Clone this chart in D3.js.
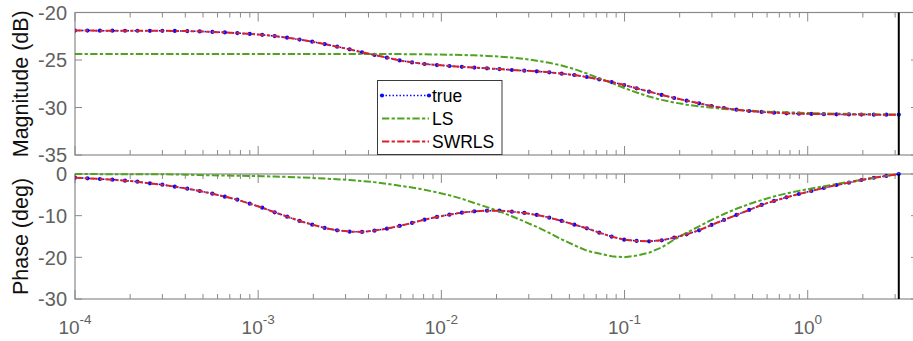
<!DOCTYPE html>
<html>
<head>
<meta charset="utf-8">
<script src="https://cdn.jsdelivr.net/npm/d3@7"></script>
<style>
  html, body { margin: 0; padding: 0; background: #fff; }
  svg { display: block; font-family: "Liberation Sans", Arial, Helvetica, sans-serif; }
</style>
</head>
<body>
<svg id="chart" width="913" height="341"></svg>
<script>
// Frequency grid (log10 of rad/sample), 1e-4 up to pi
const freqExp = [
  -4.000, -3.932, -3.864, -3.796, -3.727, -3.659, -3.591, -3.523, -3.455, -3.387,
  -3.319, -3.250, -3.182, -3.114, -3.046, -2.978, -2.910, -2.842, -2.774, -2.705,
  -2.637, -2.569, -2.501, -2.433, -2.365, -2.297, -2.228, -2.160, -2.092, -2.024,
  -1.956, -1.888, -1.820, -1.751, -1.683, -1.615, -1.547, -1.479, -1.411, -1.343,
  -1.274, -1.206, -1.138, -1.070, -1.002, -0.934, -0.866, -0.797, -0.729, -0.661,
  -0.593, -0.525, -0.457, -0.389, -0.320, -0.252, -0.184, -0.116, -0.048, 0.020,
  0.088, 0.157, 0.225, 0.293, 0.361, 0.429, 0.497
];

// Magnitude responses (dB)
const magTrue = [
  -21.90, -21.90, -21.91, -21.91, -21.92, -21.92, -21.93, -21.93, -21.94, -21.96,
  -21.99, -22.04, -22.10, -22.17, -22.25, -22.35, -22.48, -22.65, -22.85, -23.07,
  -23.32, -23.60, -23.88, -24.19, -24.47, -24.75, -25.04, -25.25, -25.42, -25.53,
  -25.63, -25.72, -25.80, -25.88, -25.95, -26.05, -26.12, -26.19, -26.30, -26.44,
  -26.58, -26.79, -27.04, -27.32, -27.63, -27.98, -28.33, -28.68, -29.00, -29.28,
  -29.56, -29.84, -30.05, -30.23, -30.37, -30.47, -30.54, -30.61, -30.65, -30.68,
  -30.70, -30.72, -30.73, -30.74, -30.75, -30.75, -30.75
];
const magLS = [
  -24.37, -24.37, -24.37, -24.37, -24.37, -24.37, -24.37, -24.37, -24.37, -24.37,
  -24.37, -24.37, -24.37, -24.37, -24.37, -24.37, -24.37, -24.37, -24.37, -24.37,
  -24.37, -24.37, -24.37, -24.37, -24.37, -24.37, -24.38, -24.39, -24.40, -24.42,
  -24.44, -24.47, -24.51, -24.57, -24.64, -24.74, -24.88, -25.07, -25.30, -25.58,
  -25.95, -26.42, -26.93, -27.42, -27.95, -28.42, -28.85, -29.20, -29.48, -29.70,
  -29.88, -30.02, -30.15, -30.26, -30.34, -30.41, -30.47, -30.51, -30.55, -30.59,
  -30.62, -30.65, -30.68, -30.70, -30.72, -30.74, -30.75
];
const magSWRLS = [
  -21.90, -21.90, -21.91, -21.91, -21.92, -21.92, -21.93, -21.93, -21.94, -21.96,
  -21.99, -22.04, -22.10, -22.17, -22.25, -22.35, -22.48, -22.65, -22.85, -23.07,
  -23.32, -23.60, -23.88, -24.19, -24.47, -24.75, -25.04, -25.25, -25.42, -25.53,
  -25.63, -25.72, -25.80, -25.88, -25.95, -26.05, -26.12, -26.19, -26.30, -26.44,
  -26.58, -26.79, -27.04, -27.32, -27.63, -27.98, -28.33, -28.68, -29.00, -29.28,
  -29.56, -29.84, -30.05, -30.23, -30.37, -30.47, -30.54, -30.61, -30.65, -30.68,
  -30.70, -30.72, -30.73, -30.74, -30.75, -30.75, -30.75
];

// Phase responses (deg)
const phTrue = [
  -0.88, -1.04, -1.20, -1.36, -1.60, -1.84, -2.24, -2.56, -3.04, -3.52,
  -4.08, -4.72, -5.44, -6.16, -7.12, -8.07, -9.19, -10.23, -11.27, -12.15,
  -12.95, -13.51, -13.83, -13.91, -13.59, -13.11, -12.47, -11.75, -10.95, -10.31,
  -9.75, -9.27, -8.95, -8.79, -8.79, -9.03, -9.35, -9.83, -10.47, -11.27,
  -12.15, -13.03, -14.07, -15.03, -15.75, -16.07, -16.15, -15.91, -15.27, -14.47,
  -13.51, -12.23, -11.03, -9.83, -8.63, -7.43, -6.47, -5.60, -4.80, -4.08,
  -3.36, -2.64, -2.08, -1.44, -0.90, -0.45, 0.00
];
const phLS = [
  -0.02, -0.02, -0.03, -0.04, -0.05, -0.06, -0.07, -0.08, -0.10, -0.18,
  -0.26, -0.32, -0.37, -0.42, -0.47, -0.53, -0.61, -0.70, -0.82, -0.95,
  -1.10, -1.26, -1.44, -1.68, -1.95, -2.35, -2.82, -3.22, -3.78, -4.42,
  -5.10, -5.95, -6.95, -7.96, -8.96, -10.15, -11.40, -12.70, -14.15, -15.70,
  -17.10, -18.40, -19.10, -19.75, -19.98, -19.58, -18.90, -17.60, -15.75, -14.10,
  -12.56, -11.00, -9.60, -8.35, -7.23, -6.26, -5.38, -4.66, -4.05, -3.50,
  -2.94, -2.41, -1.90, -1.41, -0.95, -0.45, 0.00
];
const phSWRLS = [
  -0.88, -1.04, -1.20, -1.36, -1.60, -1.84, -2.24, -2.56, -3.04, -3.52,
  -4.08, -4.72, -5.44, -6.16, -7.12, -8.07, -9.19, -10.23, -11.27, -12.15,
  -12.95, -13.51, -13.83, -13.91, -13.59, -13.11, -12.47, -11.75, -10.95, -10.31,
  -9.75, -9.27, -8.95, -8.79, -8.79, -9.03, -9.35, -9.83, -10.47, -11.27,
  -12.15, -13.03, -14.07, -15.03, -15.75, -16.07, -16.15, -15.91, -15.27, -14.47,
  -13.51, -12.23, -11.03, -9.83, -8.63, -7.43, -6.47, -5.60, -4.80, -4.08,
  -3.36, -2.64, -2.08, -1.44, -0.90, -0.45, 0.00
];

// Axis ticks
const magTicks = [-20, -25, -30, -35];
const phTicks = [0, -10, -20, -30];
const decadeExps = [-4, -3, -2, -1, 0];
const seriesNames = ["true", "LS", "SWRLS"];

// ---------------------------------------------------------------
const svg = d3.select("#chart");
const axisGray = "#8a8a8a";
const labelGray = "#616161";
const colTrue = "#0a0aff";
const colLS = "#4fa31f";
const colSW = "#d8222b";
const dashDot = "7.3,2.3,3.3,2.3";

const x = d3.scaleLog().domain([1e-4, 4]).range([75, 918]);
const nyq = Math.PI;

const panels = [
  { top: 12.5, bottom: 155, domain: [-35, -20], ticks: magTicks, label: "Magnitude (dB)",
    series: [magTrue, magLS, magSWRLS] },
  { top: 174, bottom: 299, domain: [-30, 0], ticks: phTicks, label: "Phase (deg)",
    series: [phTrue, phLS, phSWRLS] }
];

const freq = freqExp.map(e => Math.pow(10, e));
const minorTicks = [];
for (let d = -4; d <= 0; d++) {
  for (let m = 2; m <= 9; m++) {
    const v = m * Math.pow(10, d);
    if (v < 4) minorTicks.push(v);
  }
}

panels.forEach((p, pi) => {
  const y = d3.scaleLinear().domain(p.domain).range([p.bottom, p.top]);
  const g = svg.append("g");
  const x0 = x.range()[0], x1 = x.range()[1];

  // clip region for the axes contents
  const clipId = "clip" + pi;
  svg.append("clipPath").attr("id", clipId)
    .append("rect").attr("x", x0).attr("y", p.top - 3)
    .attr("width", x1 - x0).attr("height", p.bottom - p.top + 6);

  // y ticks (inside, both sides)
  p.ticks.forEach(t => {
    const yy = y(t);
    g.append("line").attr("x1", x0).attr("x2", x0 + 7).attr("y1", yy).attr("y2", yy)
      .attr("stroke", axisGray).attr("stroke-width", 1);
    g.append("line").attr("x1", x1 - 7).attr("x2", x1).attr("y1", yy).attr("y2", yy)
      .attr("stroke", axisGray).attr("stroke-width", 1);
    g.append("text").attr("x", 67).attr("y", yy).attr("dy", "0.36em")
      .attr("text-anchor", "end").attr("font-size", 20).attr("fill", labelGray)
      .text(t < 0 ? "-" + Math.abs(t) : String(t));
  });

  // x ticks (inside, top and bottom)
  decadeExps.forEach(e => {
    const xx = x(Math.pow(10, e));
    [[p.bottom, p.bottom - 9], [p.top, p.top + 9]].forEach(([a, b]) => {
      g.append("line").attr("x1", xx).attr("x2", xx).attr("y1", a).attr("y2", b)
        .attr("stroke", axisGray).attr("stroke-width", 1);
    });
  });
  minorTicks.forEach(v => {
    const xx = x(v);
    [[p.bottom, p.bottom - 5], [p.top, p.top + 5]].forEach(([a, b]) => {
      g.append("line").attr("x1", xx).attr("x2", xx).attr("y1", a).attr("y2", b)
        .attr("stroke", axisGray).attr("stroke-width", 1);
    });
  });

  // axes box
  g.append("rect").attr("x", x0).attr("y", p.top).attr("width", x1 - x0)
    .attr("height", p.bottom - p.top).attr("fill", "none")
    .attr("stroke", axisGray).attr("stroke-width", 1.2);

  // y label
  g.append("text")
    .attr("transform", `translate(28,${(p.top + p.bottom) / 2}) rotate(-90)`)
    .attr("text-anchor", "middle").attr("font-size", 21.5).attr("fill", "#111")
    .text(p.label);

  const line = d3.line().x((d, i) => x(freq[i])).y(d => y(d));
  const plot = g.append("g").attr("clip-path", `url(#${clipId})`);

  // true response: dotted line with point markers
  plot.append("path").datum(p.series[0]).attr("d", line)
    .attr("fill", "none").attr("stroke", colTrue).attr("stroke-width", 1.5)
    .attr("stroke-dasharray", "1.5,2");
  plot.selectAll(".mk").data(p.series[0]).enter().append("circle")
    .attr("cx", (d, i) => x(freq[i])).attr("cy", d => y(d)).attr("r", 2.1)
    .attr("fill", colTrue);

  // LS estimate
  plot.append("path").datum(p.series[1]).attr("d", line)
    .attr("fill", "none").attr("stroke", colLS).attr("stroke-width", 2)
    .attr("stroke-dasharray", dashDot);

  // SWRLS estimate
  plot.append("path").datum(p.series[2]).attr("d", line)
    .attr("fill", "none").attr("stroke", colSW).attr("stroke-width", 2)
    .attr("stroke-dasharray", dashDot);

  // Nyquist frequency marker
  g.append("line").attr("x1", x(nyq)).attr("x2", x(nyq))
    .attr("y1", p.top).attr("y2", p.bottom)
    .attr("stroke", "#000").attr("stroke-width", 2);
});

// x tick labels under the phase panel
decadeExps.forEach(e => {
  const t = svg.append("text").attr("x", x(Math.pow(10, e))).attr("y", 334)
    .attr("text-anchor", "middle").attr("fill", labelGray);
  t.append("tspan").attr("font-size", 19).text("10");
  t.append("tspan").attr("font-size", 13.5).attr("dy", -10).text(String(e));
});

// legend
const lg = svg.append("g");
lg.append("rect").attr("x", 377.5).attr("y", 80.5).attr("width", 124.5).attr("height", 74)
  .attr("fill", "#fff").attr("stroke", "#3a3a3a").attr("stroke-width", 1);
const legendRows = [95.5, 118.5, 141.5];
const legendStyles = [
  { c: colTrue, dash: "1.5,2", w: 1.5, marker: true },
  { c: colLS, dash: dashDot, w: 2, marker: false },
  { c: colSW, dash: dashDot, w: 2, marker: false }
];
seriesNames.forEach((name, i) => {
  const yy = legendRows[i];
  const s = legendStyles[i];
  lg.append("line").attr("x1", 382).attr("x2", 429).attr("y1", yy).attr("y2", yy)
    .attr("stroke", s.c).attr("stroke-width", s.w).attr("stroke-dasharray", s.dash);
  if (s.marker) {
    [382, 429].forEach(cx => lg.append("circle").attr("cx", cx).attr("cy", yy)
      .attr("r", 2.1).attr("fill", s.c));
  }
  lg.append("text").attr("x", 432).attr("y", yy).attr("dy", "0.36em")
    .attr("font-size", 17.5).attr("fill", "#000").text(name);
});
</script>
</body>
</html>
